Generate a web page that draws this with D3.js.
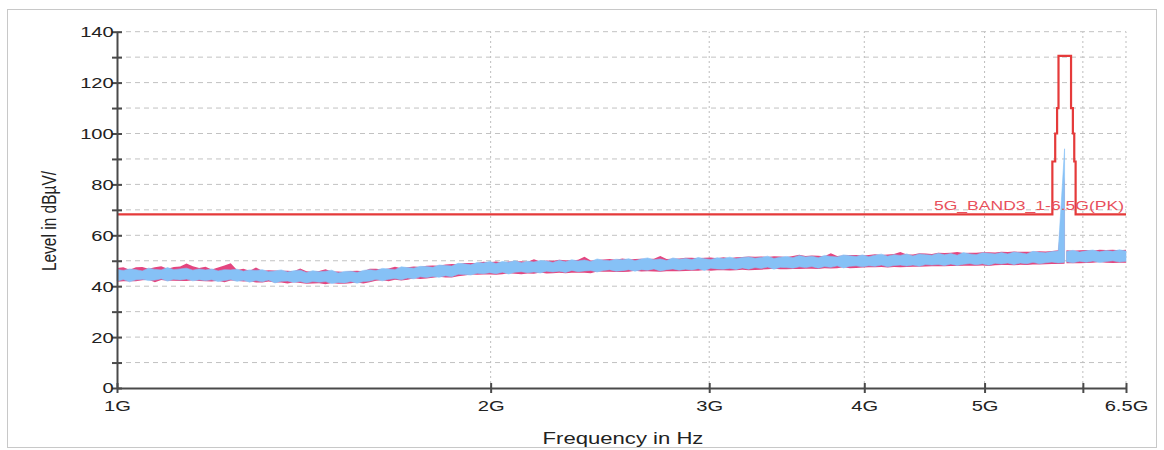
<!DOCTYPE html>
<html>
<head>
<meta charset="utf-8">
<title>5G BAND3 1-6.5G (PK)</title>
<script src="https://d3js.org/d3.v7.min.js"></script>
<style>
body { margin: 0; background: #fff; }
svg { font-family: "Liberation Sans", Arial, sans-serif; }
.grid-h line { stroke: #c2c2c2; stroke-dasharray: 5,4; }
.grid-v line { stroke: #bdbdbd; stroke-dasharray: 2,3; }
.axis path, .axis line { stroke: #4a4a4a; stroke-width: 2; }
.axis text { fill: #222; font-size: 15.5px; }
.title-text { fill: #222; font-size: 17px; }
</style>
</head>
<body>
<div id="chart"></div>
<script>

/* axis ticks */
var yTicks = [0, 10, 20, 30, 40, 50, 60, 70, 80, 90, 100, 110, 120, 130, 140];
var xTickValues = [1, 2, 3, 4, 5, 6, 6.5];
var xTickLabels = ["1G", "2G", "3G", "4G", "5G", "", "6.5G"];

/* limit line 5G_BAND3_1-6.5G(PK), GHz / dBuV */
var limitFreq  = [1.0, 5.67, 5.67, 5.70, 5.70, 5.72, 5.72, 5.735, 5.735, 5.87, 5.87, 5.89, 5.89, 5.905, 5.905, 5.92, 5.92, 6.5];
var limitLevel = [68.2, 68.2, 89, 89, 100, 100, 110, 110, 130.5, 130.5, 110, 110, 100, 100, 89, 89, 68.2, 68.2];
var limitName = "5G_BAND3_1-6.5G(PK)";

/* scan 1: 1.00 - 5.80 GHz, 151 display points (min / max per point) */
var scanA = { start: 1.0, stop: 5.80 };
var blueHiA = [
  46.6,46.2,46.8,46.5,46.0,47.1,46.6,46.4,47.3,46.5,
  46.8,47.1,46.3,46.8,46.4,46.8,46.0,46.5,46.4,46.7,
  45.9,46.4,46.2,46.5,45.7,46.0,46.4,45.6,46.1,46.3,
  45.4,46.1,45.7,45.9,46.3,45.2,45.8,45.9,45.4,46.2,
  46.5,46.2,47.0,46.8,46.5,47.6,47.3,47.1,47.8,47.7,
  47.4,48.3,48.1,47.9,49.0,48.8,48.4,49.3,49.1,49.7,
  48.9,49.7,49.4,50.0,49.2,49.8,49.5,50.1,49.9,49.3,
  50.2,49.6,50.4,49.9,50.3,49.7,50.7,50.2,50.0,50.6,
  50.4,50.8,50.0,50.7,51.1,50.4,50.7,50.1,51.1,50.6,
  50.9,50.5,51.3,50.8,50.5,51.2,50.9,51.4,50.8,51.3,
  51.5,51.0,51.3,51.8,50.9,51.4,51.7,51.2,52.1,51.5,
  51.8,51.2,52.1,51.7,51.5,52.3,52.0,51.7,52.3,51.6,
  52.2,52.6,51.8,52.4,52.1,52.7,51.9,52.7,52.4,52.2,
  52.9,52.4,52.8,52.2,53.2,52.7,52.4,53.1,52.9,52.7,
  53.2,52.7,53.4,53.1,52.7,53.7,53.3,53.1,53.6,53.8,
  94.0
];
var blueLoA = [
  42.0,42.6,41.7,42.5,42.7,42.2,42.4,42.9,42.0,42.7,
  42.4,42.8,42.1,42.5,42.2,42.5,41.8,42.2,42.6,41.9,
  42.3,41.6,42.2,41.7,42.4,41.3,41.9,42.0,41.5,41.8,
  41.3,41.8,41.6,41.8,41.1,41.5,41.3,41.8,41.2,41.8,
  42.0,42.7,42.1,42.7,43.0,42.5,43.2,42.9,43.7,43.4,
  43.8,43.5,44.1,43.7,44.7,44.6,44.4,45.1,44.9,45.3,
  44.9,45.5,44.8,45.5,45.7,45.3,45.6,45.2,45.9,45.6,
  45.9,45.4,46.2,45.7,46.0,46.2,45.6,46.2,46.5,45.9,
  46.1,46.5,45.9,46.5,46.3,46.8,46.0,46.5,46.8,46.3,
  46.7,46.4,46.9,46.2,47.1,46.8,46.7,47.0,46.6,47.2,
  46.7,47.3,47.0,47.5,46.7,47.4,47.3,47.1,47.6,47.3,
  47.7,47.1,47.7,47.4,48.0,47.2,47.8,48.0,47.6,48.0,
  47.8,48.3,47.6,48.1,48.3,47.9,48.3,47.8,48.5,48.3,
  48.5,48.1,48.7,48.1,48.6,48.9,48.4,48.8,48.2,49.0,
  48.7,49.1,48.5,49.1,48.8,49.4,48.8,49.2,49.5,49.1,
  49.4
];
var pinkHiA = [
  47.2,47.4,46.5,47.4,47.5,46.9,47.4,47.8,46.9,47.5,
  47.7,48.9,47.8,47.2,47.6,46.6,47.3,48.1,49.0,46.4,
  46.9,46.1,47.3,46.1,46.3,46.2,46.1,46.1,45.9,47.0,
  45.9,45.7,46.0,46.7,45.8,45.8,45.6,46.0,46.1,45.9,
  46.9,46.9,46.6,47.0,47.6,47.1,47.4,47.7,47.5,48.0,
  48.1,48.0,48.5,48.7,48.6,49.1,49.1,49.1,49.6,49.4,
  49.7,49.3,49.7,49.7,49.8,49.6,50.6,49.7,50.1,50.0,
  50.4,50.2,50.1,50.4,51.6,50.1,50.3,50.5,50.7,50.4,
  50.9,50.5,50.7,50.8,50.7,50.8,51.9,50.7,50.8,50.9,
  51.2,51.2,51.0,51.2,51.3,51.0,51.4,51.0,51.4,51.5,
  51.7,51.6,51.7,51.5,51.8,51.7,51.5,51.9,52.4,51.9,
  52.1,52.0,51.8,52.9,51.9,52.1,52.3,52.3,52.1,52.3,
  52.6,52.3,52.5,52.7,53.4,52.5,52.5,52.9,52.8,52.7,
  53.1,53.0,53.1,53.4,53.0,53.1,53.1,53.3,53.3,53.2,
  53.5,53.4,53.6,53.5,53.5,53.5,53.7,53.6,53.8,54.1,
  83.0
];
var pinkLoA = [
  41.7,41.9,41.9,41.9,42.3,42.5,41.6,42.4,42.1,42.1,
  42.0,42.0,42.3,42.0,41.9,41.8,42.1,41.6,42.2,42.1,
  41.8,41.9,41.5,41.5,41.8,41.5,41.5,41.1,41.6,41.3,
  41.0,41.1,41.2,40.8,41.3,41.0,41.0,41.2,41.5,41.1,
  41.6,42.1,42.3,41.9,42.5,42.2,42.5,43.1,42.8,43.0,
  43.3,43.7,43.4,43.4,43.9,44.2,44.6,44.5,44.6,44.6,
  44.5,44.7,45.1,44.9,44.7,45.0,44.9,45.4,45.0,45.1,
  45.3,45.1,45.3,45.3,45.3,45.1,45.8,45.7,45.7,45.6,
  45.6,45.7,46.1,45.8,45.9,45.8,45.7,45.9,45.9,45.9,
  46.0,46.1,46.1,46.4,46.1,46.3,46.3,46.2,46.3,46.5,
  46.3,46.4,46.5,46.7,46.9,46.7,46.7,46.8,46.8,46.9,
  46.9,46.8,47.1,47.0,47.1,47.4,47.1,47.2,47.3,47.4,
  47.4,47.5,47.3,47.5,47.4,47.5,47.6,47.6,47.7,47.8,
  47.8,47.8,47.9,47.9,48.0,48.0,48.0,48.1,47.9,48.2,
  48.3,48.3,48.2,48.4,48.3,48.5,48.5,48.6,48.7,48.7,
  48.8
];

/* scan 2: 5.82 - 6.50 GHz, 10 display points */
var scanB = { start: 5.82, stop: 6.5 };
var blueHiB  = [53.6,54.1,53.4,53.9,54.2,53.5,54.0,53.7,54.3,53.8];
var blueLoB  = [49.6,49.2,49.8,49.4,49.9,49.3,49.7,50.0,49.5,49.8];
var pinkHiB  = [54.1,53.9,54.1,54.2,53.9,54.3,54.2,54.3,54.1,54.3];
var pinkLoB  = [49.0,49.0,49.0,49.1,49.2,49.5,49.2,49.1,49.2,49.2];

var width = 1164;
var height = 450;
var margin = { left: 117, right: 38, top: 31.7, bottom: 62 };
var textStretch = 1.3;

var blueColor = "#86c1f6";
var pinkColor = "#e4457f";
var limitColor = "#e53a3a";

/* Scale */
var xScale = d3.scaleLog()
  .domain([1, 6.5])
  .range([margin.left, width - margin.right]);

var yScale = d3.scaleLinear()
  .domain([0, 140])
  .range([height - margin.bottom, margin.top]);

/* sweep points are spaced logarithmically between start and stop */
function sweep(scan, n) {
  return d3.range(n).map(i => scan.start * Math.pow(scan.stop / scan.start, i / (n - 1)));
}

function rows(scan, lo, hi) {
  var f = sweep(scan, lo.length);
  return f.map((d, i) => ({ f: d, lo: lo[i], hi: hi[i] }));
}

var pinkSegs = [rows(scanA, pinkLoA, pinkHiA), rows(scanB, pinkLoB, pinkHiB)];
var blueSegs = [rows(scanA, blueLoA, blueHiA), rows(scanB, blueLoB, blueHiB)];
var limitData = limitFreq.map((d, i) => ({ f: d, v: limitLevel[i] }));

/* Add SVG */
var svg = d3.select("#chart").append("svg")
  .attr("width", width)
  .attr("height", height);

svg.append("rect")
  .attr("x", 7.5).attr("y", 9.5)
  .attr("width", width - 15).attr("height", height - 12)
  .attr("fill", "#fff")
  .attr("stroke", "#c8c8c8");

/* grid */
svg.append("g")
  .attr("class", "grid-h")
  .selectAll("line")
  .data(yTicks.filter(d => d > 0)).enter()
  .append("line")
  .attr("x1", xScale(1)).attr("x2", xScale(6.5))
  .attr("y1", d => yScale(d)).attr("y2", d => yScale(d));

svg.append("g")
  .attr("class", "grid-v")
  .selectAll("line")
  .data(xTickValues.filter(d => d > 1)).enter()
  .append("line")
  .attr("x1", d => xScale(d)).attr("x2", d => xScale(d))
  .attr("y1", yScale(0)).attr("y2", yScale(140));

/* traces */
var area = d3.area()
  .x(d => xScale(d.f))
  .y0(d => yScale(d.lo))
  .y1(d => yScale(d.hi));

svg.append("g")
  .selectAll("path")
  .data(pinkSegs).enter()
  .append("path")
  .attr("d", area)
  .attr("fill", pinkColor);

svg.append("g")
  .selectAll("path")
  .data(blueSegs).enter()
  .append("path")
  .attr("d", area)
  .attr("fill", blueColor)
  .attr("stroke", blueColor)
  .attr("stroke-width", 0.6);

/* limit */
var line = d3.line()
  .x(d => xScale(d.f))
  .y(d => yScale(d.v));

svg.append("path")
  .attr("d", line(limitData))
  .attr("fill", "none")
  .attr("stroke", limitColor)
  .attr("stroke-width", 2.2);

svg.append("text")
  .attr("transform", `translate(${xScale(6.5) - 2}, ${yScale(limitLevel[limitLevel.length - 1]) - 4}) scale(${textStretch},1)`)
  .attr("text-anchor", "end")
  .attr("fill", "#e8505c")
  .style("font-size", "13.5px")
  .text(limitName);

/* Add Axis into SVG */
var yAxis = d3.axisLeft(yScale)
  .tickValues(yTicks)
  .tickSizeInner(5)
  .tickSizeOuter(0)
  .tickFormat(d => d % 20 === 0 ? d : "");

var gy = svg.append("g")
  .attr("class", "axis")
  .attr("transform", `translate(${margin.left}, 0)`)
  .call(yAxis);
gy.selectAll(".tick line").attr("x1", 5);
gy.selectAll(".tick text")
  .attr("x", -2.5)
  .attr("transform", `scale(${textStretch},1)`);

var xAxis = d3.axisBottom(xScale)
  .tickValues(xTickValues)
  .tickSizeInner(5)
  .tickSizeOuter(0)
  .tickFormat((d, i) => xTickLabels[i]);

var gx = svg.append("g")
  .attr("class", "axis")
  .attr("transform", `translate(0, ${yScale(0)})`)
  .call(xAxis);
gx.selectAll(".tick line").attr("y1", -5);
gx.selectAll(".tick text")
  .attr("y", 12)
  .attr("transform", `scale(${textStretch},1)`);

svg.append("text")
  .attr("class", "title-text")
  .attr("text-anchor", "middle")
  .attr("transform", `translate(623, 444) scale(${textStretch},1)`)
  .text("Frequency in Hz");

svg.append("text")
  .attr("class", "title-text")
  .attr("text-anchor", "middle")
  .style("font-size", "15.5px")
  .attr("transform", `translate(56, 221) scale(${textStretch},1) rotate(-90)`)
  .text("Level in dBµV/");

</script>
</body>
</html>
